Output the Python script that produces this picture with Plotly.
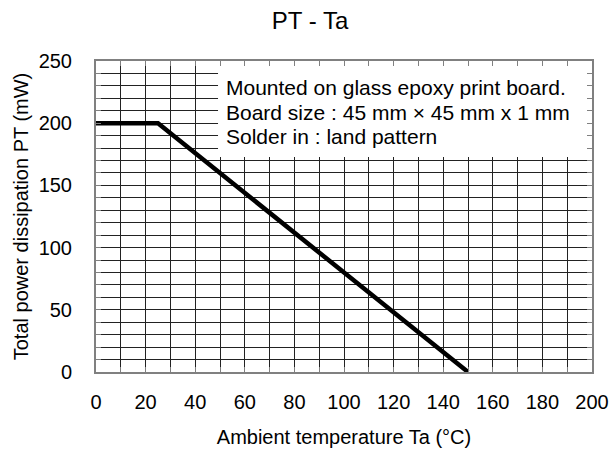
import plotly.graph_objects as go

# Data
ta_values = [0, 25, 150]          # Ambient temperature Ta (°C)
pt_values = [200, 200, 0]         # Total power dissipation PT (mW)
x_ticks = [0, 20, 40, 60, 80, 100, 120, 140, 160, 180, 200]
y_ticks = [0, 50, 100, 150, 200, 250]
note_lines = [
    "Mounted on glass epoxy print board.",
    "Board size : 45 mm × 45 mm x 1 mm",
    "Solder in : land pattern",
]
note_y = [229, 209, 189]

FONT = "Arial, Liberation Sans, sans-serif"

fig = go.Figure()
fig.add_trace(go.Scatter(
    x=ta_values, y=pt_values, mode="lines",
    line=dict(color="black", width=4.5),
    cliponaxis=False, showlegend=False, hoverinfo="skip",
))

# white box behind notes (covers the grid)
fig.add_shape(type="rect", xref="x", yref="y", x0=49.2, x1=200, y0=172.8, y1=250,
              fillcolor="white", line=dict(width=0), layer="between")

for txt, yv in zip(note_lines, note_y):
    fig.add_annotation(x=51.5, y=yv, xref="x", yref="y", text=txt, showarrow=False,
                       xanchor="left", yanchor="middle",
                       font=dict(family=FONT, size=21, color="black"))

axis_common = dict(
    showline=True, linecolor="#808080", linewidth=2, mirror="ticks",
    ticks="inside", ticklen=5, tickcolor="#808080", tickwidth=1,
    showgrid=True, gridcolor="#222222", gridwidth=1, zeroline=False,
    tickfont=dict(family=FONT, size=20, color="black"),
    automargin=False,
)
minor_common = dict(dtick=10, showgrid=True, gridcolor="#222222", gridwidth=1,
                    ticks="inside", ticklen=5, tickcolor="#808080")

fig.update_xaxes(range=[0, 200], tickvals=x_ticks, minor=minor_common,
                 ticklabelstandoff=11,
                 title=dict(text="Ambient temperature Ta (°C)", font=dict(family=FONT, size=20, color="black"), standoff=18),
                 **axis_common)
fig.update_yaxes(range=[0, 250], tickvals=y_ticks, minor=minor_common,
                 ticklabelstandoff=18,
                 title=dict(text="Total power dissipation PT (mW)", font=dict(family=FONT, size=20, color="black"), standoff=5),
                 **axis_common)

fig.update_layout(
    width=614, height=452,
    margin=dict(l=96, r=22, t=61, b=80),
    paper_bgcolor="white", plot_bgcolor="white",
    title=dict(text="PT - Ta", x=0.505, xanchor="center", y=1 - 21 / 452, yanchor="middle",
               font=dict(family=FONT, size=24, color="black")),
)

fig.write_html("out.html", config={"displayModeBar": False},
               post_script="document.body.style.margin='0px';")
